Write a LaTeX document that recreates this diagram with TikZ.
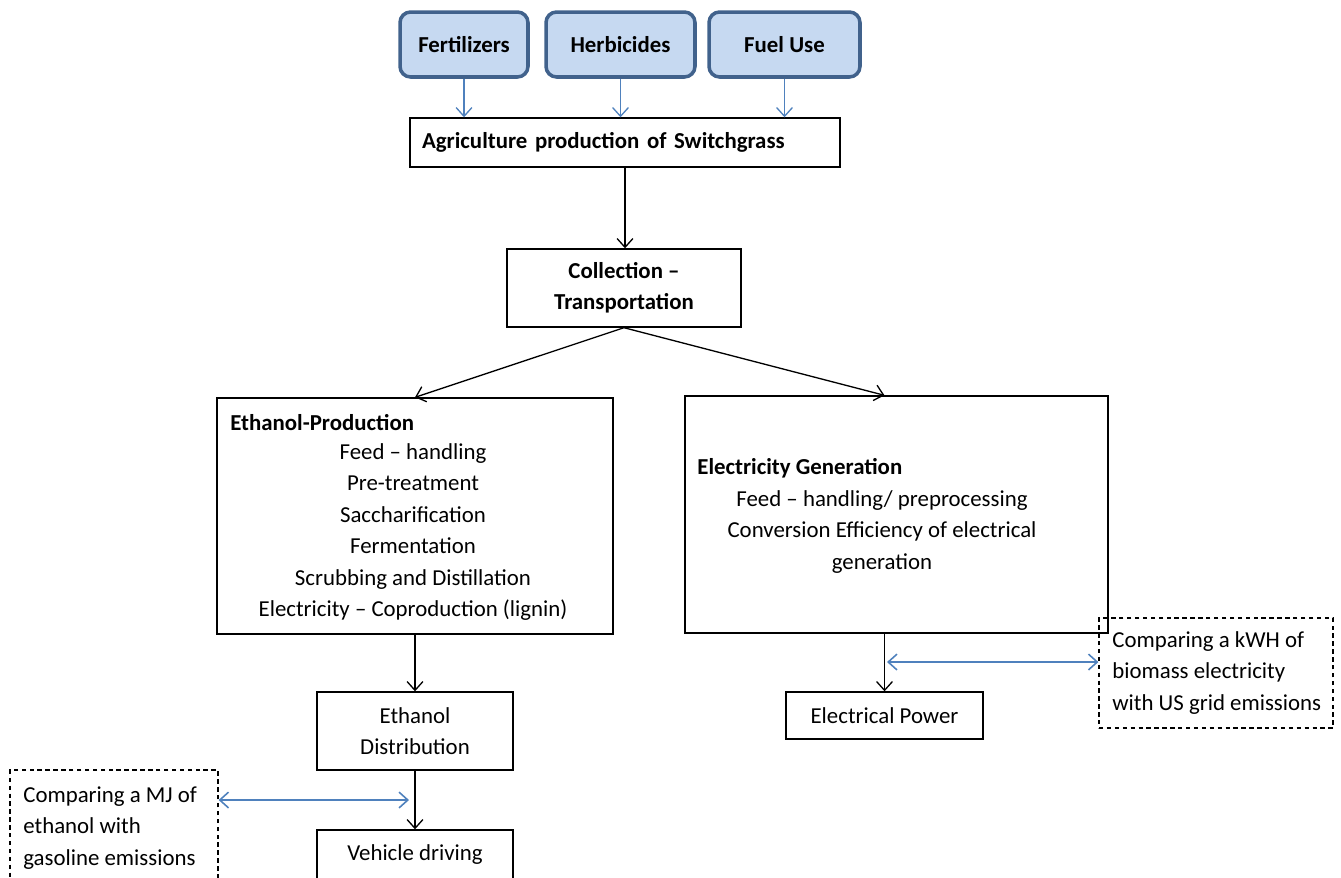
\documentclass[tikz,border=0pt]{standalone}
\usepackage{fontspec}
\setmainfont{Carlito}
\usepackage{tikz}
\usetikzlibrary{arrows.meta,positioning,calc}
\definecolor{inputfill}{RGB}{198,217,241}
\definecolor{inputedge}{RGB}{65,98,140}
\definecolor{linkblue}{RGB}{79,129,189}
\newcommand{\boxfont}{\fontsize{13}{17.9}\selectfont}

\begin{document}
\begin{tikzpicture}[
    x=0.02cm, y=-0.02cm,
    font=\boxfont,
    input/.style={draw=inputedge, line width=2pt, rounded corners=6pt, fill=inputfill, font=\boxfont\bfseries, inner sep=0pt, minimum height=1.3cm},
    stage/.style={draw, line width=0.8pt, inner sep=0pt, align=center},
    compare/.style={draw, dash pattern=on 2.5pt off 2pt, line width=0.7pt, inner sep=0pt},
    arrow/.style={-{Straight Barb[length=5pt,width=9pt]}, line width=0.75pt},
    inflow/.style={arrow, linkblue},
    twoway/.style={{Straight Barb[length=5pt,width=9pt]}-{Straight Barb[length=5pt,width=9pt]}, line width=0.9pt, linkblue}
]
    \useasboundingbox (0,0) rectangle (1341,877);
    \clip (0,0) rectangle (1341,877);

    % Inputs to the field
    \node[input, minimum width=2.56cm] (fert) at (464,44.5) {Fertilizers};
    \node[input, minimum width=2.98cm] (herb) at (620.5,44.5) {Herbicides};
    \node[input, minimum width=3.02cm] (fuel) at (784.5,44.5) {Fuel Use};

    % Feedstock chain
    \node[stage, font=\boxfont\bfseries, minimum height=0.98cm, text width=8.12cm, inner xsep=0.24cm, align=left] (agri) at (625,142.5) {Agriculture production of Switchgrass};
    \node[stage, font=\boxfont\bfseries, minimum width=4.68cm, minimum height=1.56cm] (coll) at (624,288) {Collection --\\Transportation};

    % Ethanol branch
    \node[stage, minimum width=7.92cm, minimum height=4.72cm] (eth) at (415,516) {};
    \node[font=\boxfont\bfseries, anchor=west, inner sep=0pt] (ethhead) at (230,423) {Ethanol-Production};
    \node[align=center, inner sep=0pt] (ethsteps) at (413,532) {Feed -- handling\\Pre-treatment\\Saccharification\\Fermentation\\Scrubbing and Distillation\\Electricity -- Coproduction (lignin)};
    \node[stage, minimum width=3.92cm, minimum height=1.56cm] (dist) at (415,731) {Ethanol\\Distribution};
    \node[stage, minimum width=3.92cm, minimum height=1.0cm] (drive) at (415,855) {Vehicle driving};

    % Electricity branch
    \node[stage, minimum width=8.46cm, minimum height=4.74cm] (elec) at (896.5,514.5) {};
    \node[font=\boxfont\bfseries, anchor=west, inner sep=0pt] (elechead) at (697,468) {Electricity Generation};
    \node[align=center, inner sep=0pt] (elecsteps) at (882,532) {Feed -- handling/ preprocessing\\Conversion Efficiency of electrical\\generation};
    \node[stage, minimum width=3.94cm, minimum height=0.94cm] (power) at (884.5,715.5) {Electrical Power};

    % Comparison notes
    \node[compare, minimum width=4.16cm, minimum height=2.28cm] (mjbox) at (114,827) {};
    \node[anchor=west, align=left, inner sep=0pt] (mjtext) at (23,828) {Comparing a MJ of\\ethanol with\\gasoline emissions};
    \node[compare, minimum width=4.68cm, minimum height=2.2cm] (kwhbox) at (1216,673) {};
    \node[anchor=west, align=left, inner sep=0pt] (kwhtext) at (1112,673) {Comparing a kWH of\\biomass electricity\\with US grid emissions};
    \coordinate (mjtip) at (409,800);
    \coordinate (kwhtip) at (887,662);

    % Connectors
    \foreach \src in {fert,herb,fuel}
        \draw[inflow] (\src.south) -- (\src.south |- agri.north);
    \draw[arrow] (agri.south) -- (agri.south |- coll.north);
    \draw[arrow] (coll.south) -- (eth.north);
    \draw[arrow] (coll.south) -- (power.north |- elec.north);
    \draw[arrow] (eth.south) -- (dist.north);
    \draw[arrow] (dist.south) -- (drive.north);
    \draw[arrow] (power.north |- elec.south) -- (power.north);
    \draw[twoway] (mjbox.east |- mjtip) -- (mjtip);
    \draw[twoway] (kwhtip) -- (kwhbox.west |- kwhtip);

\end{tikzpicture}
\end{document}
